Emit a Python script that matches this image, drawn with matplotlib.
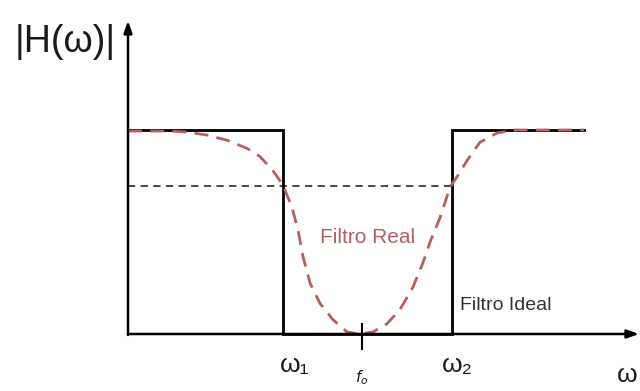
"""
Sketch of an ideal vs. real band-stop filter response |H(w)|.
"""

import matplotlib.pyplot as plt

# ---------------------------------------------------------------------------
# Data (omega in drawing units, gain normalised to 1)
# ---------------------------------------------------------------------------
omega_1 = 155
omega_2 = 324
omega_end = 456
f_0 = 234
cutoff_level = 0.725

ideal_w = [0, omega_1, omega_1, omega_2, omega_2, omega_end]
ideal_h = [1.0, 1.0, 0.0, 0.0, 1.0, 1.0]

real_w = [0, 42, 59, 79, 99, 119, 132, 145, 155, 164, 170, 175, 182, 192,
          205, 219, 232, 245, 259, 272, 285, 295, 302, 312, 322, 329, 339,
          352, 369, 385, 456]
real_h = [0.995, 0.995, 0.99, 0.975, 0.95, 0.91, 0.87, 0.80, 0.73, 0.62,
          0.51, 0.38, 0.25, 0.15, 0.07, 0.01, 0.0, 0.01, 0.05, 0.12, 0.23,
          0.35, 0.45, 0.57, 0.72, 0.77, 0.85, 0.94, 0.985, 1.0, 1.0]

tick_labels = ["ω₁", "ω₂"]

RED = "#b5605f"
FONT = ["Liberation Sans", "DejaVu Sans"]

fig = plt.figure(figsize=(6.4, 3.91), dpi=100)
ax = fig.add_axes([0, 0, 1, 1])
ax.set_xlim(-128, 512)
ax.set_ylim(-57 / 204, 334 / 204)
ax.axis("off")

# axes with arrows
ax.annotate("", xy=(0, 1.535), xytext=(0, -0.005),
            arrowprops=dict(arrowstyle="-|>,head_length=0.7,head_width=0.25",
                            color="black", lw=1.8, shrinkA=0, shrinkB=0))
ax.annotate("", xy=(511, 0), xytext=(0, 0),
            arrowprops=dict(arrowstyle="-|>,head_length=0.7,head_width=0.25",
                            color="black", lw=1.8, shrinkA=0, shrinkB=0))

# cutoff level
ax.plot([0, omega_2], [cutoff_level, cutoff_level], color="#3a3a3a",
        lw=1.3, dashes=(4, 3))

# ideal filter
ax.plot(ideal_w, ideal_h, color="black", lw=2.0, solid_joinstyle="miter")

# real filter
ax.plot(real_w, real_h, color=RED, lw=2.0, dashes=(5, 3))

# f0 tick
ax.plot([f_0, f_0], [0.05, -0.075], color="black", lw=1.5)

# labels
ax.text(-113, 1.43, "|H(ω)|", fontsize=27, family=FONT, ha="left",
        va="center", color="#1a1a1a")
ax.text(omega_1 + 12, -0.15, tick_labels[0], fontsize=19, family=FONT,
        ha="center", va="center", color="#1a1a1a")
ax.text(omega_2 + 5, -0.15, tick_labels[1], fontsize=19, family=FONT,
        ha="center", va="center", color="#1a1a1a")
ax.text(f_0, -0.215, "$f_o$", fontsize=11, ha="center", va="center",
        color="#1a1a1a")
ax.text(510, -0.20, "ω", fontsize=19, family=FONT, ha="right",
        va="center", color="#1a1a1a")
ax.text(240, 0.475, "Filtro Real", fontsize=15, family=FONT, ha="center",
        va="center", color=RED)
ax.text(332, 0.14, "Filtro Ideal", fontsize=14, family=FONT, ha="left",
        va="center", color="#333333")

fig.savefig("out.png", dpi=100)
